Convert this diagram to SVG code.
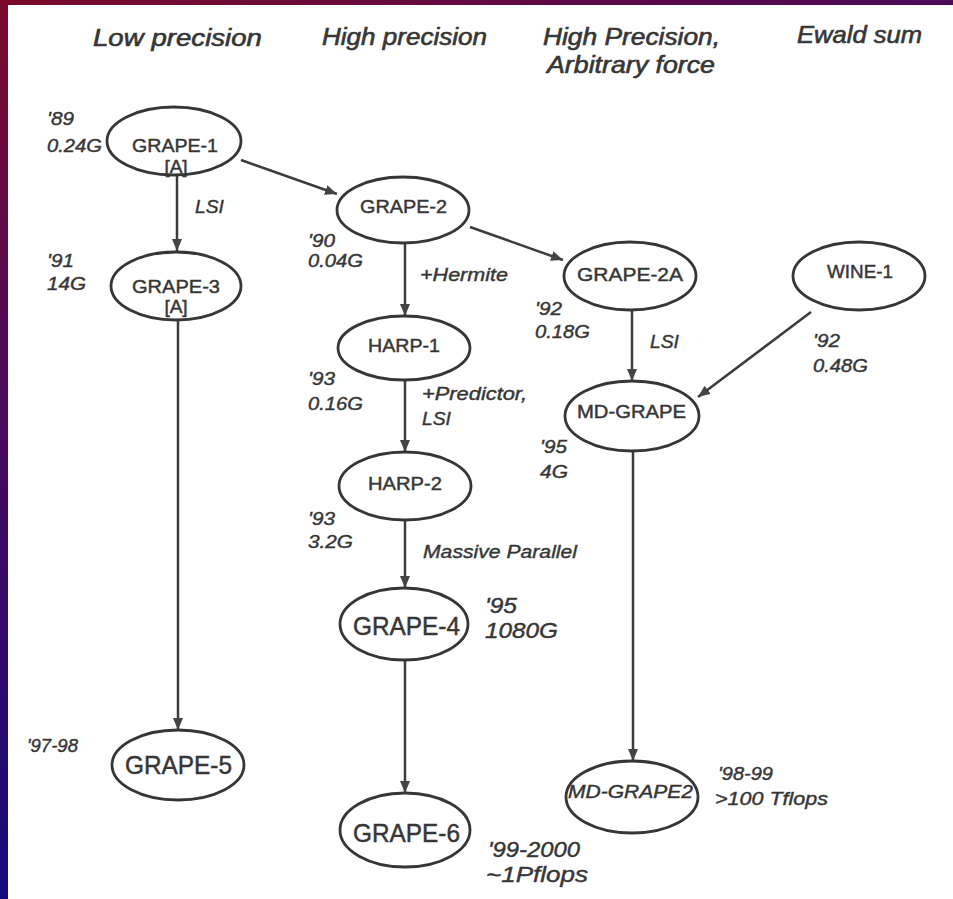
<svg xmlns="http://www.w3.org/2000/svg" width="953" height="899" viewBox="0 0 953 899">
  <defs>
    <linearGradient id="gLeft" x1="0" y1="0" x2="0" y2="1">
      <stop offset="0" stop-color="#7a0a2a"/>
      <stop offset="0.45" stop-color="#4a0a5c"/>
      <stop offset="1" stop-color="#160a7a"/>
    </linearGradient>
    <linearGradient id="gTop" x1="0" y1="0" x2="1" y2="0">
      <stop offset="0" stop-color="#7a0a2a"/>
      <stop offset="1" stop-color="#4c0a5a"/>
    </linearGradient>
    <marker id="arr" markerUnits="userSpaceOnUse" markerWidth="13" markerHeight="11" refX="12" refY="5" orient="auto">
      <path d="M0,0 L12,5 L0,10 Z" fill="#444444"/>
    </marker>
    <style>
      .node ellipse { fill: #ffffff; stroke: #363636; stroke-width: 2.8; }
      .lbl { font-family: "Liberation Sans", Arial, sans-serif; font-size: 19px; fill: #363636; stroke: #363636; stroke-width: 0.45; text-anchor: middle; }
      .big { font-size: 25px; }
      .ann { font-family: "Liberation Sans", Arial, sans-serif; font-size: 18.5px; font-style: italic; fill: #363636; stroke: #363636; stroke-width: 0.4; }
      .ann2 { font-size: 21.5px; }
      .head { font-family: "Liberation Sans", Arial, sans-serif; font-size: 23px; font-style: italic; fill: #363636; stroke: #363636; stroke-width: 0.6; }
      .edges line { stroke: #3c3c3c; stroke-width: 2.5; marker-end: url(#arr); }
    </style>
  </defs>

  <!-- frame -->
  <rect x="0" y="0" width="953" height="899" fill="url(#gLeft)"/>
  <rect x="0" y="0" width="953" height="5" fill="url(#gTop)"/>
  <rect x="8" y="5" width="945" height="894" fill="#ffffff"/>

  <!-- headings -->
  <g id="headings">
    <text class="head" x="93" y="46" textLength="169" lengthAdjust="spacingAndGlyphs">Low precision</text>
    <text class="head" x="322" y="45" textLength="165" lengthAdjust="spacingAndGlyphs">High precision</text>
    <text class="head" x="543" y="45" textLength="177" lengthAdjust="spacingAndGlyphs">High Precision,</text>
    <text class="head" x="547" y="73" textLength="168" lengthAdjust="spacingAndGlyphs">Arbitrary force</text>
    <text class="head" x="797" y="43" textLength="125" lengthAdjust="spacingAndGlyphs">Ewald sum</text>
  </g>

  <!-- connectors -->
  <g id="connectors" class="edges">
    <line x1="177" y1="175" x2="177" y2="251"/>
    <line x1="241" y1="160" x2="337" y2="194"/>
    <line x1="405" y1="243" x2="405" y2="316"/>
    <line x1="470" y1="227" x2="563" y2="260"/>
    <line x1="405" y1="380" x2="405" y2="452"/>
    <line x1="405" y1="520" x2="405" y2="588"/>
    <line x1="405" y1="660" x2="405" y2="793"/>
    <line x1="178" y1="320" x2="178" y2="730"/>
    <line x1="632" y1="310" x2="632" y2="381"/>
    <line x1="811" y1="312" x2="698" y2="397"/>
    <line x1="633" y1="451" x2="633" y2="761"/>
  </g>

  <!-- nodes -->
  <g id="grape1" class="node">
    <ellipse cx="174" cy="141" rx="67" ry="34"/>
    <text class="lbl" x="175" y="152" textLength="86" lengthAdjust="spacingAndGlyphs">GRAPE-1</text>
    <text class="lbl" x="176" y="173">[A]</text>
  </g>
  <g id="grape3" class="node">
    <ellipse cx="176" cy="286" rx="65" ry="34"/>
    <text class="lbl" x="176" y="293" textLength="88" lengthAdjust="spacingAndGlyphs">GRAPE-3</text>
    <text class="lbl" x="176" y="313">[A]</text>
  </g>
  <g id="grape2" class="node">
    <ellipse cx="403" cy="210" rx="66" ry="33"/>
    <text class="lbl" x="403.5" y="213" textLength="87" lengthAdjust="spacingAndGlyphs">GRAPE-2</text>
  </g>
  <g id="grape2a" class="node">
    <ellipse cx="630" cy="276" rx="66" ry="34"/>
    <text class="lbl" x="630" y="281" textLength="106" lengthAdjust="spacingAndGlyphs">GRAPE-2A</text>
  </g>
  <g id="wine1" class="node">
    <ellipse cx="859" cy="276" rx="66" ry="34"/>
    <text class="lbl" x="860" y="278" textLength="66" lengthAdjust="spacingAndGlyphs">WINE-1</text>
  </g>
  <g id="harp1" class="node">
    <ellipse cx="404" cy="348" rx="66" ry="32"/>
    <text class="lbl" x="404" y="352" textLength="72" lengthAdjust="spacingAndGlyphs">HARP-1</text>
  </g>
  <g id="mdgrape" class="node">
    <ellipse cx="632" cy="416" rx="67" ry="35"/>
    <text class="lbl" x="631.5" y="418" textLength="109" lengthAdjust="spacingAndGlyphs">MD-GRAPE</text>
  </g>
  <g id="harp2" class="node">
    <ellipse cx="405" cy="486" rx="66" ry="34"/>
    <text class="lbl" x="405" y="490" textLength="74" lengthAdjust="spacingAndGlyphs">HARP-2</text>
  </g>
  <g id="grape4" class="node">
    <ellipse cx="404" cy="624" rx="64" ry="36"/>
    <text class="lbl big" x="406.5" y="635" textLength="107" lengthAdjust="spacingAndGlyphs">GRAPE-4</text>
  </g>
  <g id="grape6" class="node">
    <ellipse cx="405" cy="830" rx="65" ry="37"/>
    <text class="lbl big" x="406.5" y="842" textLength="107" lengthAdjust="spacingAndGlyphs">GRAPE-6</text>
  </g>
  <g id="grape5" class="node">
    <ellipse cx="178" cy="765" rx="66" ry="35"/>
    <text class="lbl big" x="178.5" y="774" textLength="107" lengthAdjust="spacingAndGlyphs">GRAPE-5</text>
  </g>
  <g id="mdgrape2" class="node">
    <ellipse cx="632" cy="797" rx="66" ry="36"/>
    <text class="lbl" x="630.5" y="798" font-style="italic" font-size="21" textLength="125" lengthAdjust="spacingAndGlyphs">MD-GRAPE2</text>
  </g>

  <!-- annotations -->
  <g id="annotations">
    <text class="ann" x="47" y="125" textLength="27" lengthAdjust="spacingAndGlyphs">'89</text>
    <text class="ann" x="47" y="152" textLength="55" lengthAdjust="spacingAndGlyphs">0.24G</text>
    <text class="ann" x="47" y="267" textLength="27" lengthAdjust="spacingAndGlyphs">'91</text>
    <text class="ann" x="47" y="290" textLength="39" lengthAdjust="spacingAndGlyphs">14G</text>
    <text class="ann" x="195" y="213" textLength="29" lengthAdjust="spacingAndGlyphs">LSI</text>

    <text class="ann" x="308" y="247" textLength="27" lengthAdjust="spacingAndGlyphs">'90</text>
    <text class="ann" x="308" y="267" textLength="55" lengthAdjust="spacingAndGlyphs">0.04G</text>
    <text class="ann" x="420" y="281" textLength="88" lengthAdjust="spacingAndGlyphs">+Hermite</text>

    <text class="ann" x="308" y="385" textLength="27" lengthAdjust="spacingAndGlyphs">'93</text>
    <text class="ann" x="308" y="410" textLength="55" lengthAdjust="spacingAndGlyphs">0.16G</text>
    <text class="ann" x="422" y="400" textLength="105" lengthAdjust="spacingAndGlyphs">+Predictor,</text>
    <text class="ann" x="422" y="425" textLength="29" lengthAdjust="spacingAndGlyphs">LSI</text>

    <text class="ann" x="535" y="315" textLength="27" lengthAdjust="spacingAndGlyphs">'92</text>
    <text class="ann" x="535" y="338" textLength="55" lengthAdjust="spacingAndGlyphs">0.18G</text>
    <text class="ann" x="650" y="348" textLength="29" lengthAdjust="spacingAndGlyphs">LSI</text>

    <text class="ann" x="813" y="347" textLength="27" lengthAdjust="spacingAndGlyphs">'92</text>
    <text class="ann" x="813" y="372" textLength="55" lengthAdjust="spacingAndGlyphs">0.48G</text>

    <text class="ann" x="540" y="453" textLength="27" lengthAdjust="spacingAndGlyphs">'95</text>
    <text class="ann" x="540" y="478" textLength="28" lengthAdjust="spacingAndGlyphs">4G</text>

    <text class="ann" x="308" y="525" textLength="27" lengthAdjust="spacingAndGlyphs">'93</text>
    <text class="ann" x="308" y="548" textLength="45" lengthAdjust="spacingAndGlyphs">3.2G</text>
    <text class="ann" x="423" y="558" textLength="154" lengthAdjust="spacingAndGlyphs">Massive Parallel</text>

    <text class="ann ann2" x="485" y="613" textLength="32" lengthAdjust="spacingAndGlyphs">'95</text>
    <text class="ann ann2" x="485" y="638" textLength="73" lengthAdjust="spacingAndGlyphs">1080G</text>

    <text class="ann" x="27" y="752" textLength="51" lengthAdjust="spacingAndGlyphs">'97-98</text>

    <text class="ann" x="718" y="780" font-size="20" textLength="55" lengthAdjust="spacingAndGlyphs">'98-99</text>
    <text class="ann" x="715" y="805" font-size="20" textLength="113" lengthAdjust="spacingAndGlyphs">&gt;100 Tflops</text>

    <text class="ann ann2" x="488" y="857" font-size="20.5" textLength="92" lengthAdjust="spacingAndGlyphs">'99-2000</text>
    <text class="ann ann2" x="486" y="882" font-size="20.5" textLength="102" lengthAdjust="spacingAndGlyphs">~1Pflops</text>
  </g>
</svg>
